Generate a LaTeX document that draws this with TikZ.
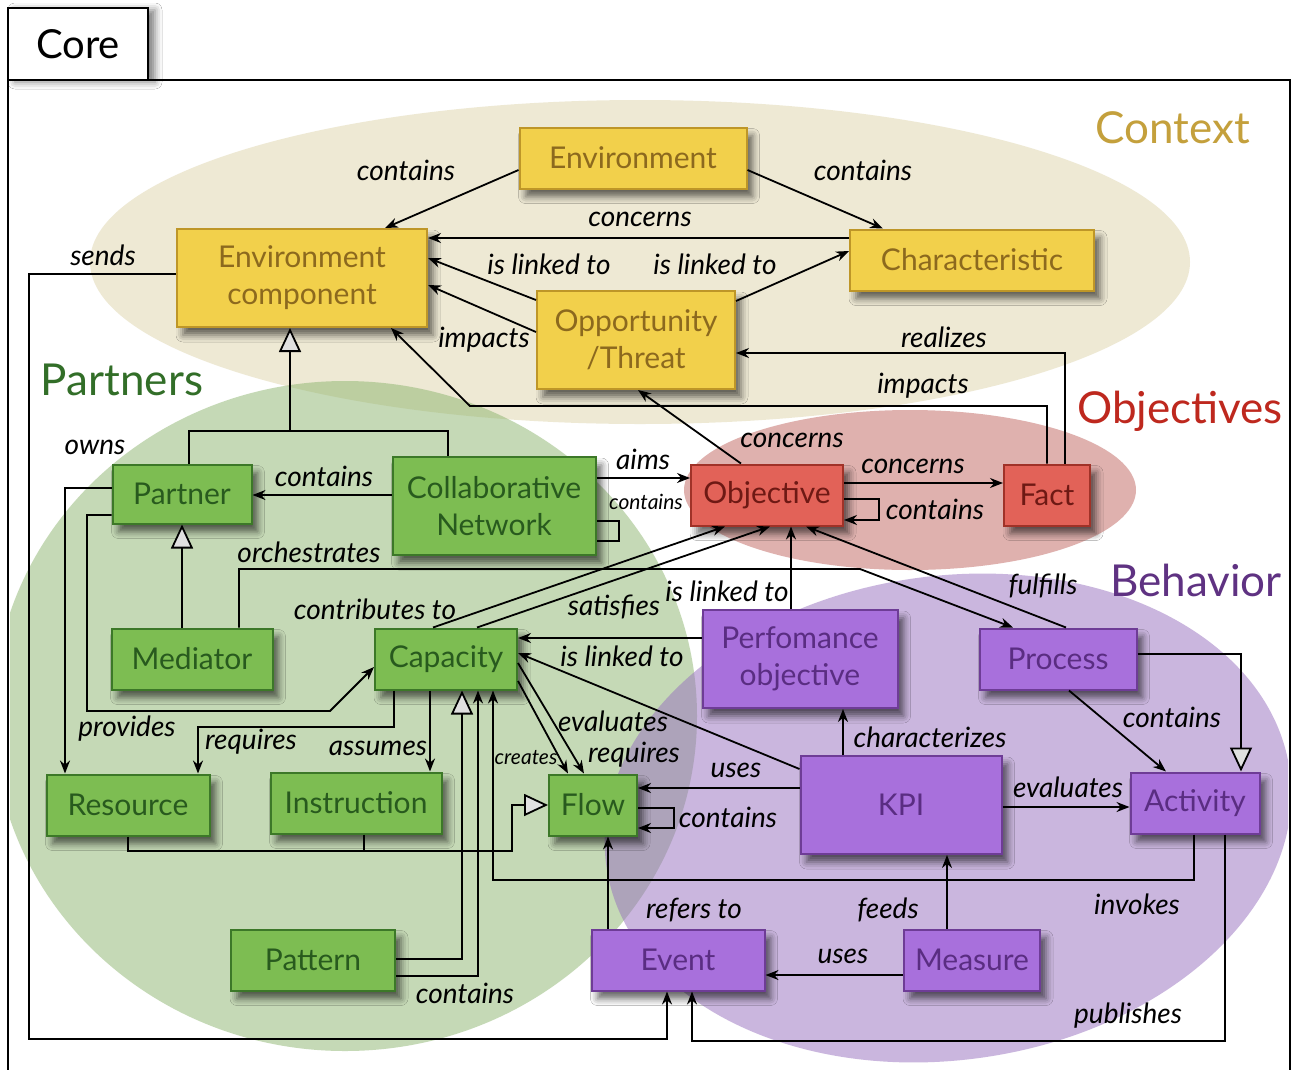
\documentclass[tikz,border=0pt]{standalone}
\usepackage{fontspec}
\setmainfont{Lato}
\usetikzlibrary{arrows.meta,shadows.blur}
\definecolor{ctxbg}{RGB}{222,212,170}
\definecolor{prtbg}{RGB}{140,180,110}
\definecolor{objbg}{RGB}{192,100,95}
\definecolor{behbg}{RGB}{150,110,190}
\definecolor{yfill}{RGB}{242,208,75}
\definecolor{ydraw}{RGB}{190,150,40}
\definecolor{ytext}{RGB}{140,105,30}
\definecolor{rfill}{RGB}{226,98,88}
\definecolor{rdraw}{RGB}{160,50,40}
\definecolor{rtext}{RGB}{110,25,20}
\definecolor{gfill}{RGB}{125,189,82}
\definecolor{gdraw}{RGB}{60,120,40}
\definecolor{gtext}{RGB}{40,90,30}
\definecolor{pfill}{RGB}{168,112,220}
\definecolor{pdraw}{RGB}{110,60,150}
\definecolor{ptext}{RGB}{90,45,130}
\definecolor{ctxtitle}{RGB}{196,160,60}
\definecolor{prttitle}{RGB}{50,110,40}
\definecolor{objtitle}{RGB}{190,40,30}
\definecolor{behtitle}{RGB}{95,50,130}
\tikzset{
  box/.style={rectangle, line width=2pt, inner sep=0pt, align=center,
    font=\fontsize{30}{37}\selectfont,
    blur shadow={shadow xshift=6pt, shadow yshift=-8pt, shadow blur radius=7pt, shadow opacity=60}},
  ybox/.style={box, fill=yfill, draw=ydraw, text=ytext},
  rbox/.style={box, fill=rfill, draw=rdraw, text=rtext},
  gbox/.style={box, fill=gfill, draw=gdraw, text=gtext},
  pbox/.style={box, fill=pfill, draw=pdraw, text=ptext},
  lbl/.style={inner sep=1pt, font=\itshape\fontsize{28}{30}\selectfont},
  slbl/.style={inner sep=1pt, font=\itshape\fontsize{21}{23}\selectfont},
  ttl/.style={inner sep=0pt, font=\fontsize{44}{48}\selectfont},
  ln/.style={line width=1.8pt},
  arr/.style={line width=1.8pt, -{Stealth[length=13pt, width=10pt]}},
  gen/.style={line width=1.8pt, -{Triangle[length=24pt, width=22pt, fill=white!88!black]}},
}
\begin{document}
\begin{tikzpicture}[x=1pt, y=-1pt]
\useasboundingbox (0,0) rectangle (1293,1069);
\fill[white] (0,0) rectangle (1293,1069);
% frame
\draw[line width=2pt] (8,80) rectangle (1290,1090);
\node[draw, fill=white, line width=2pt, minimum width=140pt, minimum height=72pt, inner sep=0pt,
  font=\fontsize{40}{44}\selectfont,
  blur shadow={shadow xshift=7pt, shadow yshift=-2pt, shadow blur radius=7pt, shadow opacity=50}] (core) at (78,44) {Core};
\draw[line width=2pt] (8,80) -- (1290,80);
% regions
\begin{scope}
\clip (10,82) rectangle (1288,1069);
\fill[ctxbg, fill opacity=.5] (640,262) ellipse [x radius=550pt, y radius=162pt];
\fill[prtbg, fill opacity=.5] (345,716) ellipse [x radius=352pt, y radius=335pt];
\fill[objbg, fill opacity=.5] (910,490) ellipse [x radius=226pt, y radius=80pt];
\fill[behbg, fill opacity=.5, rotate around={8:(948,818)}] (948,818) ellipse [x radius=345pt, y radius=242pt];
\end{scope}
% titles
\node[ttl, text=ctxtitle] (tctx) at (1173,128) {Context};
\node[ttl, text=prttitle] (tprt) at (122,380) {Partners};
\node[ttl, text=objtitle] (tobj) at (1180,411) {Objectives};
\node[ttl, text=behtitle] (tbeh) at (1196,580) {Behavior};
% boxes
\node[ybox, minimum width=227pt, minimum height=61pt] (env) at (633,158) {Environment};
\node[ybox, minimum width=250pt, minimum height=98pt] (envc) at (302,278) {Environment\\component};
\node[ybox, minimum width=244pt, minimum height=61pt] (char) at (972,260) {Characteristic};
\node[ybox, minimum width=198pt, minimum height=98pt] (opp) at (636,340) {Opportunity\\/Threat};
\node[rbox, minimum width=152pt, minimum height=61pt] (obj) at (767,495) {Objective};
\node[rbox, minimum width=86pt, minimum height=61pt] (fact) at (1047,495) {Fact};
\node[gbox, minimum width=139pt, minimum height=59pt] (partner) at (182,494) {Partner};
\node[gbox, minimum width=203pt, minimum height=98pt] (collab) at (494,506) {Collaborative\\Network};
\node[gbox, minimum width=161pt, minimum height=61pt] (mediator) at (192,659) {Mediator};
\node[gbox, minimum width=142pt, minimum height=61pt] (capacity) at (446,659) {Capacity};
\node[gbox, minimum width=163pt, minimum height=61pt] (resource) at (128,805) {Resource};
\node[gbox, minimum width=171pt, minimum height=61pt] (instruction) at (356,803) {Instruction};
\node[gbox, minimum width=88pt, minimum height=61pt] (flow) at (593,805) {Flow};
\node[gbox, minimum width=164pt, minimum height=61pt] (pattern) at (313,960) {Pattern};
\node[pbox, minimum width=195pt, minimum height=98pt] (perf) at (800,659) {Perfomance\\objective};
\node[pbox, minimum width=157pt, minimum height=61pt] (process) at (1058,659) {Process};
\node[pbox, minimum width=201pt, minimum height=98pt] (kpi) at (901,805) {KPI};
\node[pbox, minimum width=129pt, minimum height=61pt] (activity) at (1195,803) {Activity};
\node[pbox, minimum width=173pt, minimum height=61pt] (event) at (678,960) {Event};
\node[pbox, minimum width=136pt, minimum height=61pt] (measure) at (972,960) {Measure};
% connectors: context
\draw[arr] (env.west |- 0,170) -- (envc.north -| 385,0);
\draw[arr] (env.east |- 0,170) -- (char.north -| 883,0);
\draw[arr] (char.west |- 0,238) -- (envc.east |- 0,238);
\draw[arr] (opp.west |- 0,300) -- (envc.east |- 0,258);
\draw[arr] (opp.east |- 0,301) -- (char.west |- 0,251);
\draw[arr] (opp.west |- 0,332) -- (envc.east |- 0,285);
\draw[arr] (fact.north -| 1047,0) |- (470,406) -- (envc.south -| 391,0);
\draw[arr] (fact.north -| 1065,0) |- (opp.east |- 0,353);
% objectives
\draw[arr] (obj.north -| 741,0) -- (opp.south -| 638,0);
\draw[arr] (obj.east |- 0,483) -- (fact.west |- 0,483);
\draw[arr] (obj.east |- 0,499) -| (879,510) |- (obj.east |- 0,520);
\draw[arr] (collab.east |- 0,478) -- (obj.west |- 0,478);
\draw[ln] (collab.east |- 0,521) -| (619,531) |- (collab.east |- 0,541);
% partners
\draw[arr] (collab.west |- 0,495) -- (partner.east |- 0,495);
\draw[gen] (partner.north -| 189,0) |- (290,431) -- (envc.south -| 290,0);
\draw[ln] (collab.north -| 448,0) |- (290,431);
\draw[gen] (mediator.north -| 182,0) -- (partner.south -| 182,0);
\draw[arr] (mediator.north -| 239,0) |- (860,569) -- (process.north -| 1013,0);
\draw[arr] (partner.west |- 0,488) -| (resource.north -| 65,0);
\draw[arr] (partner.west |- 0,515) -| (87,711) -- (330,711) -- (capacity.west |- 0,667);
\draw[arr] (capacity.south -| 394,0) |- (198,727) -- (resource.north -| 198,0);
\draw[arr] (capacity.south -| 430,0) -- (instruction.north -| 430,0);
\draw[gen] (resource.south -| 128,0) |- (512,851) |- (flow.west |- 0,805);
\draw[ln] (instruction.south -| 364,0) -- (364,851);
\draw[gen] (pattern.east |- 0,959) -| (capacity.south -| 462,0);
\draw[arr] (pattern.east |- 0,976) -| (capacity.south -| 478,0);
\draw[arr] (activity.south -| 1194,0) |- (493,880) -- (capacity.south -| 493,0);
\draw[arr] (capacity.east |- 0,681) -- (flow.north -| 568,0);
\draw[arr] (capacity.east |- 0,663) -- (flow.north -| 584,0);
\draw[arr] (kpi.west |- 0,769) -- (capacity.east |- 0,653);
\draw[arr] (perf.west |- 0,638) -- (capacity.east |- 0,638);
\draw[arr] (capacity.north -| 433,0) -- (obj.south -| 725,0);
\draw[arr] (capacity.north -| 477,0) -- (obj.south -| 770,0);
% behavior
\draw[arr] (perf.north -| 791,0) -- (obj.south -| 791,0);
\draw[arr] (process.north -| 1066,0) -- (obj.south -| 806,0);
\draw[arr] (kpi.west |- 0,788) -- (flow.east |- 0,788);
\draw[arr] (flow.east |- 0,808) -| (674,818) |- (flow.east |- 0,828);
\draw[arr] (event.north -| 608,0) -- (flow.south -| 608,0);
\draw[arr] (measure.west |- 0,975) -- (event.east |- 0,975);
\draw[arr] (measure.north -| 947,0) -- (kpi.south -| 947,0);
\draw[arr] (kpi.north -| 843,0) -- (perf.south -| 843,0);
\draw[arr] (kpi.east |- 0,807) -- (activity.west |- 0,807);
\draw[arr] (process.south -| 1069,0) -- (activity.north -| 1166,0);
\draw[gen] (process.east |- 0,654) -| (activity.north -| 1241,0);
\draw[arr] (activity.south -| 1225,0) |- (692,1041) -- (event.south -| 692,0);
\draw[arr] (envc.west |- 0,274) -| (29,1039) -| (event.south -| 667,0);
% labels
\node[lbl] (l1) at (406,170) {contains};
\node[lbl] (l2) at (863,170) {contains};
\node[lbl] (l3) at (640,219) {concerns};
\node[lbl] (l4) at (549,264) {is linked to};
\node[lbl] (l5) at (715,264) {is linked to};
\node[lbl] (l6) at (484,340) {impacts};
\node[lbl] (l7) at (944,337) {realizes};
\node[lbl] (l8) at (923,386) {impacts};
\node[lbl] (l9) at (103,255) {sends};
\node[lbl] (l10) at (95,447) {owns};
\node[lbl] (l11) at (324,476) {contains};
\node[lbl] (l12) at (643,459) {aims};
\node[slbl] (l13) at (646,502) {contains};
\node[lbl] (l14) at (792,440) {concerns};
\node[lbl] (l15) at (913,466) {concerns};
\node[lbl] (l16) at (935,509) {contains};
\node[lbl] (l17) at (309,552) {orchestrates};
\node[lbl] (l18) at (375,609) {contributes to};
\node[lbl] (l19) at (614,607) {satisfies};
\node[lbl] (l20) at (727,591) {is linked to};
\node[lbl] (l21) at (1043,586) {fulfills};
\node[lbl] (l22) at (622,656) {is linked to};
\node[lbl] (l23) at (127,729) {provides};
\node[lbl] (l24) at (251,742) {requires};
\node[lbl] (l25) at (378,748) {assumes};
\node[lbl] (l26) at (613,721) {evaluates};
\node[lbl] (l27) at (634,755) {requires};
\node[slbl] (l28) at (526,758) {creates};
\node[lbl] (l29) at (736,770) {uses};
\node[lbl] (l30) at (930,737) {characterizes};
\node[lbl] (l31) at (1172,717) {contains};
\node[lbl] (l32) at (1068,787) {evaluates};
\node[lbl] (l33) at (728,817) {contains};
\node[lbl] (l34) at (1137,904) {invokes};
\node[lbl] (l35) at (694,910) {refers to};
\node[lbl] (l36) at (888,910) {feeds};
\node[lbl] (l37) at (843,956) {uses};
\node[lbl] (l38) at (465,993) {contains};
\node[lbl] (l39) at (1128,1016) {publishes};
\end{tikzpicture}
\end{document}
